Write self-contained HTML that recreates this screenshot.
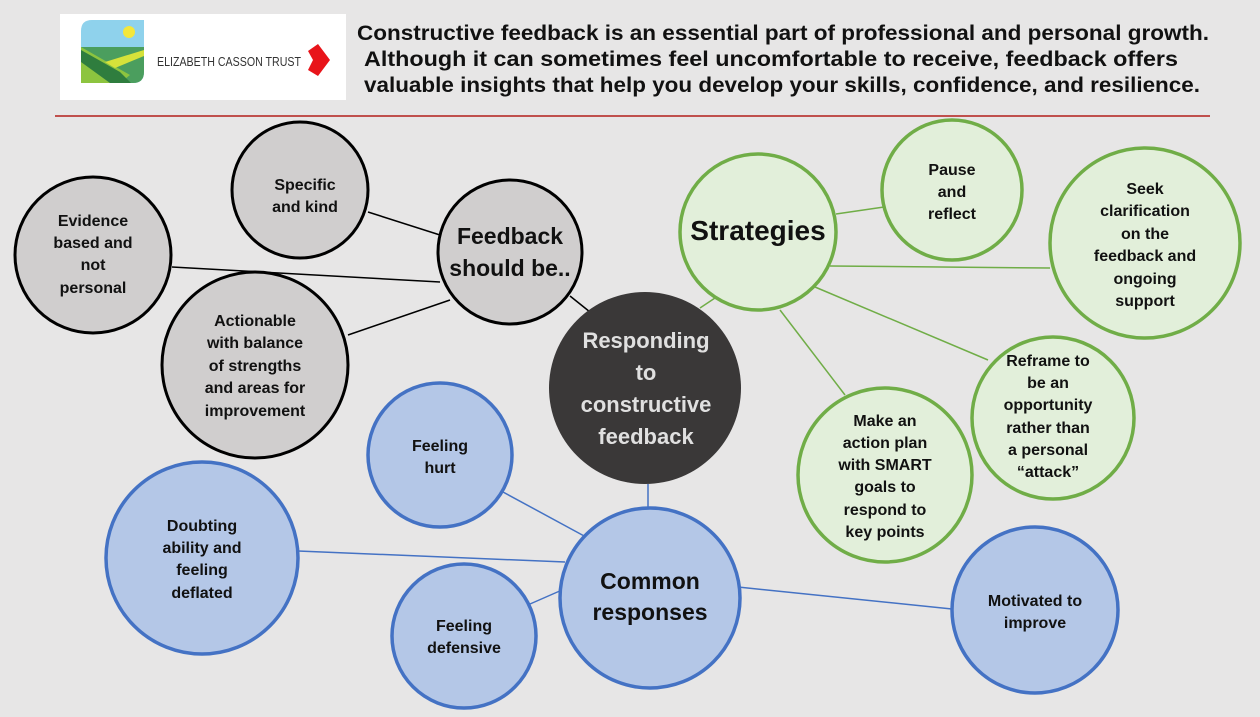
<!DOCTYPE html>
<html><head><meta charset="utf-8"><style>
body{margin:0;width:1260px;height:712px;background:#e7e6e6;overflow:hidden;font-family:"Liberation Sans",Arial,sans-serif}
</style></head><body>
<svg width="1260" height="712" xmlns="http://www.w3.org/2000/svg" font-family="Liberation Sans, Arial, sans-serif" font-weight="bold" text-anchor="middle">
<rect width="1260" height="712" fill="#e7e6e6"/>
<rect x="60" y="14" width="286" height="86" fill="#fff"/>
<path d="M81 31 Q81 20 92 20 L144 20 L144 72 Q144 83 133 83 L81 83 Z" fill="#8fd2ec"/>
<circle cx="129" cy="32" r="6" fill="#f4e73a"/>
<path d="M81 47 L144 47 L144 72 Q144 83 133 83 L81 83 Z" fill="#4b9e5e"/>
<path d="M81 47 L130 75 L120 83 L81 83 Z" fill="#8dc43f"/>
<path d="M81 50 L120 72 L131 83 L110 83 L81 62Z" fill="#2f7d3e"/>
<path d="M105 62 L144 50 L144 56 L115 68Z" fill="#d6e23a"/>
<text x="157" y="66" font-size="13" font-weight="normal" fill="#333" text-anchor="start" textLength="144" lengthAdjust="spacingAndGlyphs">ELIZABETH CASSON TRUST</text>
<path d="M308 51 L318 44 L330 60 L318 76 L308 70 L313 60 Z" fill="#e8141a"/>
<text x="783" y="40" font-size="21" fill="#111" textLength="852" lengthAdjust="spacingAndGlyphs">Constructive feedback is an essential part of professional and personal growth.</text>
<text x="771" y="66" font-size="21" fill="#111" textLength="814" lengthAdjust="spacingAndGlyphs">Although it can sometimes feel uncomfortable to receive, feedback offers</text>
<text x="782" y="92" font-size="21" fill="#111" textLength="836" lengthAdjust="spacingAndGlyphs">valuable insights that help you develop your skills, confidence, and resilience.</text>
<line x1="55" y1="116" x2="1210" y2="116" stroke="#c0504d" stroke-width="2"/>
<g stroke="#000" stroke-width="1.5">
<line x1="368" y1="212" x2="440" y2="235"/><line x1="172" y1="267" x2="440" y2="282"/>
<line x1="348" y1="335" x2="450" y2="300"/><line x1="570" y1="296" x2="590" y2="312"/>
</g>
<g stroke="#70ad47" stroke-width="1.5">
<line x1="836" y1="214" x2="884" y2="207"/><line x1="830" y1="266" x2="1050" y2="268"/>
<line x1="815" y1="287" x2="988" y2="360"/><line x1="780" y1="310" x2="845" y2="395"/>
<line x1="715" y1="298" x2="700" y2="308"/>
</g>
<g stroke="#4472c4" stroke-width="1.5">
<line x1="648" y1="484" x2="648" y2="510"/><line x1="503" y1="492" x2="586" y2="537"/>
<line x1="298" y1="551" x2="565" y2="562"/><line x1="530" y1="604" x2="562" y2="590"/>
<line x1="738" y1="587" x2="952" y2="609"/>
</g>
<g fill="#d0cece" stroke="#000" stroke-width="3">
<circle cx="300" cy="190" r="68"/><circle cx="93" cy="255" r="78"/>
<circle cx="255" cy="365" r="93"/><circle cx="510" cy="252" r="72"/>
</g>
<circle cx="645" cy="388" r="96" fill="#3a3838"/>
<g fill="#e2efda" stroke="#70ad47" stroke-width="3.5">
<circle cx="758" cy="232" r="78"/><circle cx="952" cy="190" r="70"/>
<circle cx="1145" cy="243" r="95"/><circle cx="1053" cy="418" r="81"/>
<circle cx="885" cy="475" r="87"/>
</g>
<g fill="#b4c7e7" stroke="#4472c4" stroke-width="3.5">
<circle cx="440" cy="455" r="72"/><circle cx="202" cy="558" r="96"/>
<circle cx="650" cy="598" r="90"/><circle cx="464" cy="636" r="72"/>
<circle cx="1035" cy="610" r="83"/>
</g>
<g font-size="16" fill="#111">
<text x="305" y="190">Specific</text><text x="305" y="212">and kind</text>
<text x="93" y="226">Evidence</text><text x="93" y="248">based and</text><text x="93" y="270">not</text><text x="93" y="293">personal</text>
<text x="255" y="326">Actionable</text><text x="255" y="348">with balance</text><text x="255" y="371">of strengths</text><text x="255" y="393">and areas for</text><text x="255" y="416">improvement</text>
<text x="952" y="175">Pause</text><text x="952" y="197">and</text><text x="952" y="219">reflect</text>
<text x="1145" y="194">Seek</text><text x="1145" y="216">clarification</text><text x="1145" y="239">on the</text><text x="1145" y="261">feedback and</text><text x="1145" y="284">ongoing</text><text x="1145" y="306">support</text>
<text x="1048" y="366">Reframe to</text><text x="1048" y="388">be an</text><text x="1048" y="410">opportunity</text><text x="1048" y="433">rather than</text><text x="1048" y="455">a personal</text><text x="1048" y="477">“attack”</text>
<text x="885" y="426">Make an</text><text x="885" y="448">action plan</text><text x="885" y="470">with SMART</text><text x="885" y="492">goals to</text><text x="885" y="515">respond to</text><text x="885" y="537">key points</text>
<text x="440" y="451">Feeling</text><text x="440" y="473">hurt</text>
<text x="202" y="531">Doubting</text><text x="202" y="553">ability and</text><text x="202" y="575">feeling</text><text x="202" y="598">deflated</text>
<text x="464" y="631">Feeling</text><text x="464" y="653">defensive</text>
<text x="1035" y="606">Motivated to</text><text x="1035" y="628">improve</text>
</g>
<g font-size="23" fill="#111">
<text x="510" y="244">Feedback</text><text x="510" y="276">should be..</text>
<text x="650" y="589">Common</text><text x="650" y="620">responses</text>
</g>
<text x="758" y="240" font-size="28" fill="#111">Strategies</text>
<g font-size="22" fill="#e0e0e0">
<text x="646" y="348">Responding</text><text x="646" y="380">to</text><text x="646" y="412">constructive</text><text x="646" y="444">feedback</text>
</g>
</svg>
</body></html>
